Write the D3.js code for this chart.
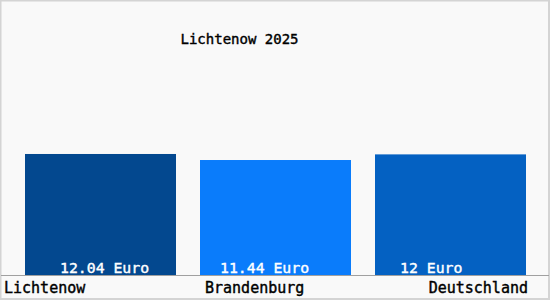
<!DOCTYPE html>
<html>
<head>
<meta charset="utf-8">
<script src="https://cdn.jsdelivr.net/npm/d3@7"></script>
<style>
  html, body { margin: 0; padding: 0; background: #fff; }
  svg { display: block; }
  text { font-family: "DejaVu Sans Mono", monospace; }
</style>
</head>
<body>
<div id="chart"></div>
<script>
// data
const title = 'Lichtenow 2025';
const categories = ['Lichtenow', 'Brandenburg', 'Deutschland'];
const values = [12.04, 11.44, 12];
const valueLabels = ['12.04 Euro', '11.44 Euro', '12 Euro'];
const barColors = ['#03488f', '#0a7cfb', '#0461c2'];

(function(){
    const width = 550, height = 300;
    const baseY = 275;

    const svg = d3.select('#chart').append('svg')
        .attr('width', width).attr('height', height);

    // background + frame
    svg.append('rect')
        .attr('x', 0.5).attr('y', 0.5)
        .attr('width', width - 1.5).attr('height', height - 1.5)
        .attr('fill', '#f9f9f9')
        .attr('stroke', '#d4d4d4').attr('stroke-width', 2);

    const x = d3.scaleBand().domain(categories).range([0.5, 550.5])
        .paddingInner(24 / 175).paddingOuter(24.5 / 175);
    const y = d3.scaleLinear().domain([0, 25.37]).range([baseY, 20]);

    // bars
    svg.selectAll('rect.bar').data(values).join('rect')
        .attr('class', 'bar')
        .attr('x', (d, i) => x(categories[i]))
        .attr('y', d => y(d))
        .attr('width', x.bandwidth())
        .attr('height', d => baseY - y(d))
        .attr('fill', (d, i) => barColors[i]);

    // baseline
    svg.append('line')
        .attr('x1', 1).attr('x2', width - 1)
        .attr('y1', baseY + 0.5).attr('y2', baseY + 0.5)
        .attr('stroke', '#a0a0a0').attr('stroke-width', 1);

    // value labels inside bars
    const labelDx = [35, 20, 25];
    svg.selectAll('text.val').data(valueLabels).join('text')
        .attr('class', 'val')
        .attr('x', (d, i) => x(categories[i]) + labelDx[i])
        .attr('y', 273)
        .attr('fill', '#fff')
        .attr('stroke', '#fff').attr('stroke-width', 0.4)
        .style('font-size', '14.8px')
        .text(d => d);

    // category labels
    const anchors = ['start', 'start', 'end'];
    const catX = [4, x(categories[1]) + 5, x(categories[2]) + x.bandwidth() + 2];
    svg.selectAll('text.cat').data(categories).join('text')
        .attr('class', 'cat')
        .attr('x', (d, i) => catX[i])
        .attr('y', 293)
        .attr('text-anchor', (d, i) => anchors[i])
        .attr('fill', '#000')
        .attr('stroke', '#000').attr('stroke-width', 0.4)
        .style('font-size', '15px')
        .text(d => d);

    // title
    svg.append('text')
        .attr('x', 239.5).attr('y', 43.5)
        .attr('text-anchor', 'middle')
        .attr('fill', '#000')
        .attr('stroke', '#000').attr('stroke-width', 0.4)
        .style('font-size', '14px')
        .text(title);
})();
</script>
</body>
</html>
